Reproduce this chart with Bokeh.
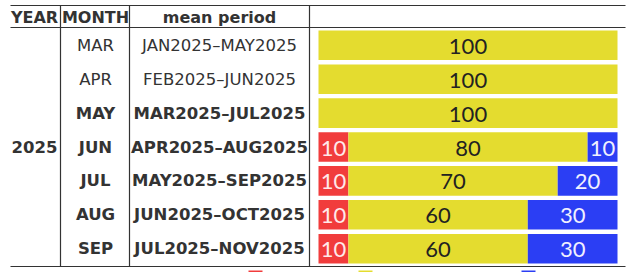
from bokeh.plotting import figure
from bokeh.models import Range1d, ColumnDataSource
from bokeh.core.properties import value
from bokeh.embed import file_html
from bokeh.resources import INLINE

# ---- data ----
year_label = "2025"
months = ["MAR", "APR", "MAY", "JUN", "JUL", "AUG", "SEP"]
periods = ["JAN2025–MAY2025", "FEB2025–JUN2025", "MAR2025–JUL2025",
           "APR2025–AUG2025", "MAY2025–SEP2025", "JUN2025–OCT2025",
           "JUL2025–NOV2025"]
bold_rows = [False, False, True, True, True, True, True]
below = [0, 0, 0, 10, 10, 10, 10]
normal = [100, 100, 100, 80, 70, 60, 60]
above = [0, 0, 0, 10, 20, 30, 30]
headers = ["YEAR", "MONTH", "mean period"]

# ---- layout (pixel space) ----
W, H = 638, 272
RED, YEL, BLUE = "#f13c3c", "#e4dc2f", "#2b3ef4"
TXT = "#333333"
BAR_X0, BAR_W = 318.0, 299.0
ROW_TOP, ROW_PITCH, BAR_H = 30.0, 33.9, 29.6
LEFT, RIGHT = 10, 625
Y_TOP, Y_HEAD, Y_BOT = 5, 27, 266
V_LINES = [60, 129, 309]
COL_X = [34, 95, 219]

p = figure(width=W, height=H, x_range=Range1d(0, W), y_range=Range1d(H, 0),
           output_backend="svg", toolbar_location=None, min_border=0)
p.axis.visible = False
p.grid.visible = False
p.outline_line_color = None
p.background_fill_color = "white"
p.border_fill_color = "white"

n = len(months)
yc = [ROW_TOP + BAR_H / 2 + i * ROW_PITCH for i in range(n)]
sc = BAR_W / 100.0

l1 = [BAR_X0 for _ in range(n)]
r1 = [BAR_X0 + b * sc for b in below]
r2 = [r1[i] + normal[i] * sc for i in range(n)]
r3 = [r2[i] + above[i] * sc for i in range(n)]

for lefts, rights, col in [(l1, r1, RED), (r1, r2, YEL), (r2, r3, BLUE)]:
    p.hbar(y=yc, left=lefts, right=rights, height=BAR_H, fill_color=col, line_color=None)

# bar labels
for vals, lefts, rights, col in [(below, l1, r1, "#ffe9e9"), (normal, r1, r2, "#222222"),
                                 (above, r2, r3, "#f0f0ff")]:
    xs, ys, ts = [], [], []
    for i in range(n):
        if vals[i] > 0:
            xs.append((lefts[i] + rights[i]) / 2)
            ys.append(yc[i] + 1)
            ts.append(str(vals[i]))
    p.text(x=xs, y=ys, text=ts, text_align="center", text_baseline="middle",
           text_font=value("Lato"), text_font_size="22px", text_color=col)

# table lines
for yy in [Y_TOP, Y_HEAD, Y_BOT]:
    p.line([LEFT, RIGHT], [yy, yy], line_color=TXT, line_width=1.2)
for xx in V_LINES:
    p.line([xx, xx], [Y_TOP, Y_BOT], line_color=TXT, line_width=1.2)

# headers
p.text(x=COL_X, y=[17] * 3, text=headers, text_align="center", text_baseline="middle",
       text_font=value("DejaVu Sans"), text_font_size="16px", text_font_style="bold",
       text_color=TXT)

# year
p.text(x=[COL_X[0]], y=[yc[3]], text=[year_label], text_align="center",
       text_baseline="middle", text_font=value("DejaVu Sans"), text_font_size="16.5px",
       text_font_style="bold", text_color=TXT)

# month & period text
for style, flag in [("normal", False), ("bold", True)]:
    idx = [i for i in range(n) if bold_rows[i] == flag]
    src = ColumnDataSource(dict(
        y=[yc[i] for i in idx],
        m=[months[i] for i in idx],
        pr=[periods[i] for i in idx]))
    p.text(x=COL_X[1], y="y", text="m", source=src, text_align="center",
           text_baseline="middle", text_font=value("DejaVu Sans"), text_font_size="16.5px",
           text_font_style=style, text_color=TXT)
    p.text(x=COL_X[2], y="y", text="pr", source=src, text_align="center",
           text_baseline="middle", text_font=value("DejaVu Sans"), text_font_size="16.5px",
           text_font_style=style, text_color=TXT)

# legend squares (cut off at bottom edge)
p.rect(x=[255, 365, 528], y=[277, 277, 277], width=14, height=14,
       fill_color=[RED, YEL, BLUE], line_color=None)

open("out.html", "w").write(file_html(p, INLINE))
